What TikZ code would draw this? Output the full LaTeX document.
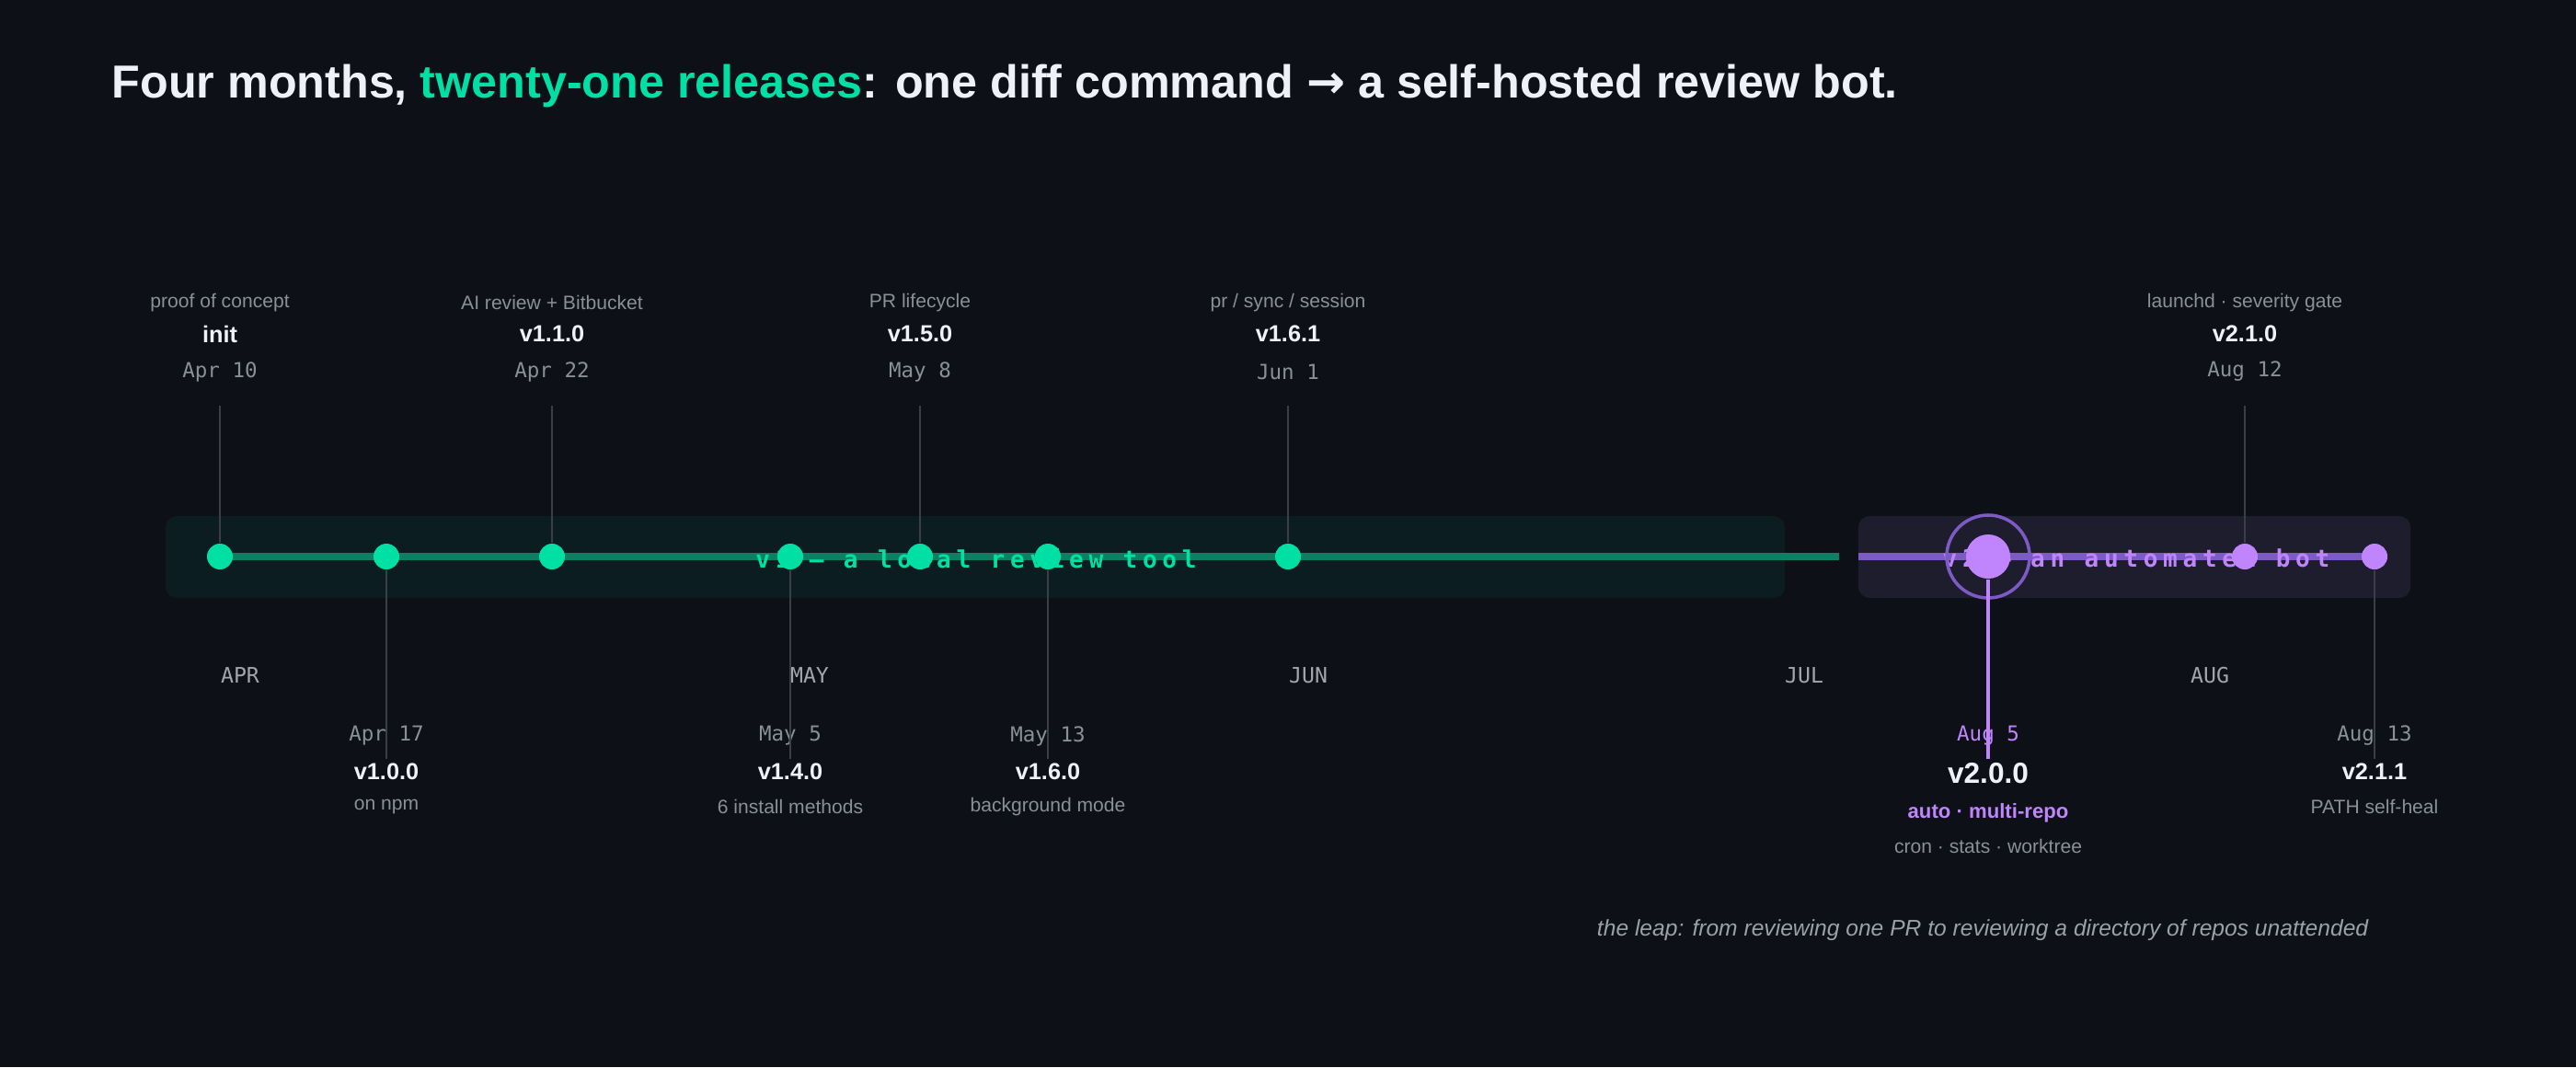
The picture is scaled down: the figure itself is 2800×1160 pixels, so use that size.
\documentclass[tikz,border=0pt]{standalone}
\usepackage{fontspec}
\setmainfont{Liberation Sans}
\newfontfamily\monof{DejaVu Sans Mono}
\newfontfamily\monosp[LetterSpace=22]{DejaVu Sans Mono}
\newfontfamily\arrf{DejaVu Sans}
\definecolor{bg}{HTML}{0D1017}
\definecolor{grn}{HTML}{00E0A4}
\definecolor{grnl}{HTML}{0E7F62}
\definecolor{bandA}{HTML}{0C1D21}
\definecolor{bandB}{HTML}{1E1D2D}
\definecolor{pur}{HTML}{C084FC}
\definecolor{purl}{HTML}{7C5CC4}
\definecolor{stem}{HTML}{3A3F47}
\definecolor{gry}{HTML}{8B8F98}
\definecolor{wht}{HTML}{EEF1F6}
\begin{document}
\begin{tikzpicture}[x=0.01cm,y=-0.01cm,
  desc/.style={text=gry,font=\fontsize{6}{7}\selectfont,inner sep=0},
  ver/.style={text=wht,font=\fontsize{7.2}{8}\selectfont\bfseries,inner sep=0},
  dat/.style={text=gry,font=\fontsize{6.4}{7}\selectfont\monof,inner sep=0},
  mon/.style={text=gry!80,font=\fontsize{6.6}{7}\selectfont\monof,inner sep=0},
  gdot/.style={circle,fill=grn,minimum size=0.28cm,inner sep=0},
  pdot/.style={circle,fill=pur,minimum size=0.28cm,inner sep=0},
  stm/.style={draw=stem,line width=0.6pt}]
\fill[bg] (0,0) rectangle (2800,1160);
\useasboundingbox (0,0) rectangle (2800,1160);
\node[anchor=west,inner sep=0,text=wht,font=\fontsize{14.3}{16}\selectfont\bfseries] (title) at (121,93)
 {Four months, \textcolor{grn}{twenty-one releases}: one diff command {\arrf →} a self-hosted review bot.};
% bands
\fill[bandA,rounded corners=0.12cm] (180,561) rectangle (1940,650);
\fill[bandB,rounded corners=0.12cm] (2020,561) rectangle (2620,650);
\coordinate (gl0) at (239,605); \coordinate (gl1) at (1999,605);
\coordinate (pl0) at (2020,605); \coordinate (pl1) at (2580,605);
\draw[grnl,line width=2.2pt] (gl0) -- (gl1);
\draw[purl,line width=2.2pt] (pl0) -- (pl1);
\node[text=grn,font=\fontsize{7.4}{8}\selectfont\monosp\bfseries,inner sep=0] (bl1) at (1061,607) {v1 — a local review tool};
\node[text=pur,font=\fontsize{7.4}{8}\selectfont\monosp\bfseries,inner sep=0] (bl2) at (2322,607) {v2 — an automated bot};
% months
\node[mon] (mA) at (261,734) {APR};
\node[mon] (mM) at (880,734) {MAY};
\node[mon] (mJ) at (1422,734) {JUN};
\node[mon] (mL) at (1961,734) {JUL};
\node[mon] (mG) at (2402,734) {AUG};
% upper releases
\foreach \n/\x/\d/\v/\t in {a/239/proof of concept/init/Apr 10, c/600/AI review + Bitbucket/v1.1.0/Apr 22, e/1000/PR lifecycle/v1.5.0/May 8, g/1400/{pr / sync / session}/v1.6.1/Jun 1}{
  \node[desc] (\n d) at (\x,329) {\d};
  \node[ver] (\n v) at (\x,363) {\v};
  \node[dat] (\n t) at (\x,404) {\t};
  \coordinate (\n s) at (\x,441);
  \node[gdot] (\n) at (\x,605) {};
  \draw[stm] (\n s) -- (\n.north);
}
\node[pdot] (k) at (2440,605) {};
\node[desc] (kd) at (2440,329) {launchd · severity gate};
\node[ver] (kv) at (2440,363) {v2.1.0};
\node[dat] (kt) at (2440,404) {Aug 12};
\coordinate (ks) at (2440,441);
\draw[stm] (ks) -- (k.north);
% lower releases
\foreach \n/\x/\d/\v/\t in {b/420/on npm/v1.0.0/Apr 17, dd/859/6 install methods/v1.4.0/May 5, f/1139/background mode/v1.6.0/May 13}{
  \node[dat] (\n t) at (\x,800) {\t};
  \node[ver] (\n v) at (\x,839) {\v};
  \node[desc] (\n d) at (\x,877) {\d};
  \coordinate (\n s) at (\x,825);
  \node[gdot] (\n) at (\x,605) {};
  \draw[stm] (\n.south) -- (\n s);
}
\node[dat] (lt) at (2581,800) {Aug 13};
\node[ver] (lv) at (2581,839) {v2.1.1};
\node[desc] (ld) at (2581,877) {PATH self-heal};
\coordinate (ls) at (2581,825);
\node[pdot] (l) at (2581,605) {};
\draw[stm] (l.south) -- (ls);
% v2.0.0
\node[circle,draw=purl,line width=1pt,minimum size=0.9cm,inner sep=0] (ring) at (2161,605) {};
\node[circle,fill=pur,minimum size=0.48cm,inner sep=0] (m) at (2161,605) {};
\node[dat,text=pur] (mt) at (2161,800) {Aug 5};
\coordinate (ms) at (2161,825);
\draw[pur,line width=1pt] (m.south) -- (ms);
\node[ver,font=\fontsize{9}{10}\selectfont\bfseries] (mv) at (2161,841) {v2.0.0};
\node[text=pur,font=\fontsize{6.3}{7}\selectfont\bfseries,inner sep=0] (mp) at (2161,884) {auto · multi-repo};
\node[desc] (mg) at (2161,920) {cron · stats · worktree};
% footnote
\node[anchor=east,text=gry!85,font=\fontsize{7}{8}\selectfont\itshape,inner sep=0] (fn) at (2575,1011) {the leap: from reviewing one PR to reviewing a directory of repos unattended};
\end{tikzpicture}
\end{document}
